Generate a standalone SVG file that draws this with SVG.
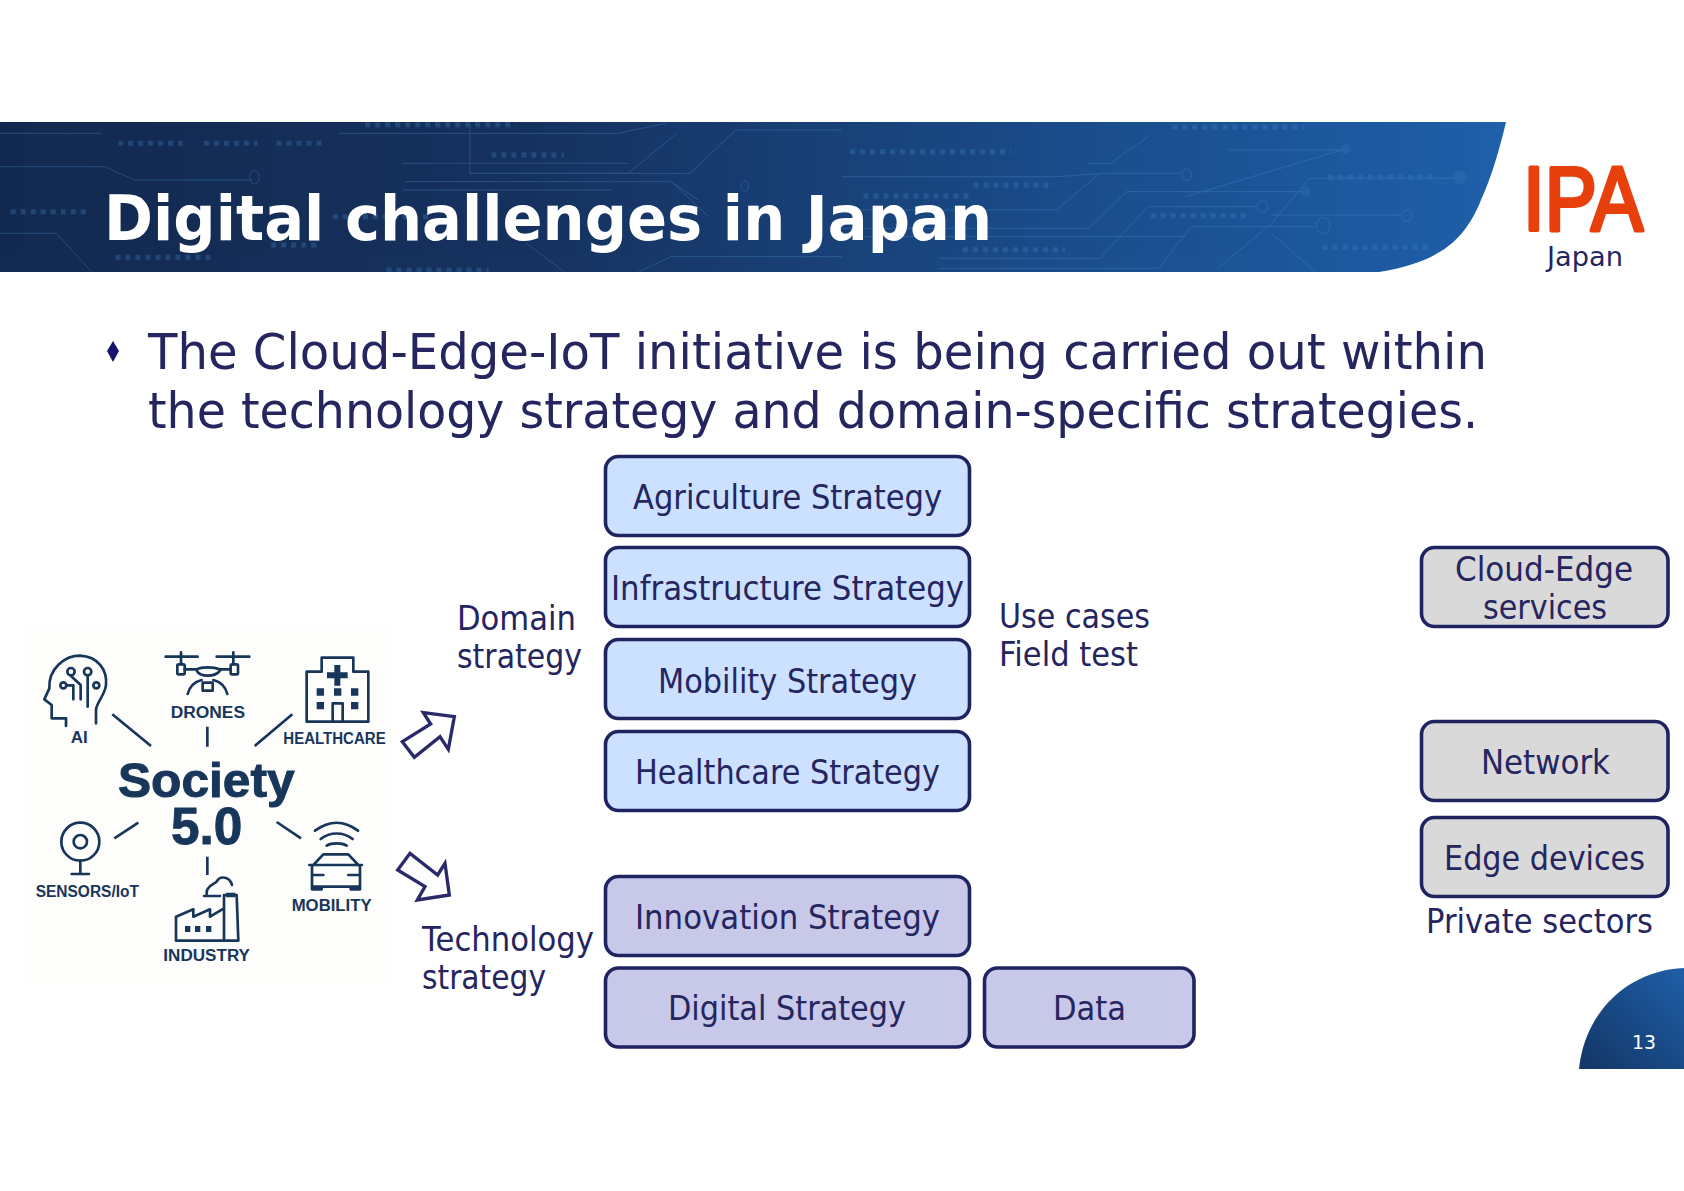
<svg xmlns="http://www.w3.org/2000/svg" width="1684" height="1191" viewBox="0 0 1684 1191">
<style>
.box{stroke:#1f2360;stroke-width:3.6}
.blue{fill:#cce0ff}.pur{fill:#c8c8e8}.gry{fill:#d9d9d9}
.t{font-family:"DejaVu Sans",sans-serif;fill:#25255f;font-size:33px}
.ic{fill:none;stroke:#17365a;stroke-width:8;stroke-linecap:round;stroke-linejoin:round}
.sp{fill:none;stroke:#17365a;stroke-width:8}
.lb{font-family:"Liberation Sans",sans-serif;font-weight:700;fill:#17365a;font-size:52px}
.so{font-family:"Liberation Sans",sans-serif;font-weight:700;fill:#17365a;stroke:#17365a;stroke-width:3}
.c{fill:none;stroke:#4a9ad8;stroke-width:1;vector-effect:non-scaling-stroke}
.dl{fill:none;stroke:#3f86c8;stroke-width:5;stroke-dasharray:5 5;vector-effect:non-scaling-stroke}
.d{fill:#3f86c8;opacity:.7}
.ar{fill:#fff;stroke:#2a2a6a;stroke-width:10;stroke-linejoin:miter}
</style>
<defs>
<linearGradient id="bg" x1="0" x2="1" y1="0" y2="0"><stop offset="0" stop-color="#132a50"/><stop offset=".35" stop-color="#16325f"/><stop offset=".7" stop-color="#1b4c8a"/><stop offset="1" stop-color="#1f60aa"/></linearGradient>
<linearGradient id="cg" x1="0" x2="1" y1="1" y2="0"><stop offset="0" stop-color="#133565"/><stop offset="1" stop-color="#1f5fa8"/></linearGradient>
<clipPath id="bc"><path d="M0 122H1506C1497 160 1488 185 1481 200C1465 240 1440 262 1379 272H0Z"/></clipPath>
</defs>
<rect width="1684" height="1191" fill="#fff"/>
<g id="banner">
<path d="M0 122H1506C1497 160 1488 185 1481 200C1465 240 1440 262 1379 272H0Z" fill="url(#bg)"/>
<g clip-path="url(#bc)" opacity=".3">
<g transform="translate(0 100) scale(.537 .3333)">
<path class="c" d="M0 100H190M0 200H195L250 240H470M630 100H1150L1240 70M875 70V220H1170L1260 100M875 220H1285L1370 90H1568M750 190H1170M755 245H1250L1300 300M750 270H1140M0 400H105L170 515M980 430L1050 515M1190 515L1250 470H1568M1250 245L1320 350"/>
<ellipse class="c" cx="474" cy="232" rx="9" ry="20"/><ellipse class="c" cx="1387" cy="258" rx="7" ry="15"/>
<path class="dl" d="M220 130H340M380 130H480M515 130H600M215 472H400M915 165H1050M20 335H165M620 350H800M505 435H590M680 74H960M720 510H910"/>
</g>
<g transform="translate(842 100) scale(.537 .3333)">
<path class="c" d="M0 230H400L490 220H630M0 330H400L480 220M0 385H460L530 275H860M0 410H640M180 475H480L570 320H770M180 505H590L650 380H880M700 505L800 370L870 235H1140M720 150H930L640 290M800 345H1040M800 400L880 515M460 190H500L570 110"/>
<ellipse class="c" cx="642" cy="224" rx="9" ry="17"/><ellipse class="c" cx="783" cy="320" rx="10" ry="18"/><ellipse class="c" cx="896" cy="377" rx="13" ry="24"/><ellipse class="c" cx="1052" cy="347" rx="9" ry="17"/>
<ellipse class="d" cx="938" cy="148" rx="9" ry="15"/><ellipse class="d" cx="864" cy="275" rx="9" ry="15"/><ellipse class="d" cx="1151" cy="232" rx="12" ry="20"/>
<path class="dl" d="M615 82H860M245 255H395M905 232H1100M575 347H760M40 288H240M225 449H415M895 442H1095M15 155H315"/>
</g>
</g>
<text x="104" y="240" font-family="'DejaVu Sans',sans-serif" font-weight="700" font-size="62" fill="#fff" textLength="888" lengthAdjust="spacingAndGlyphs">Digital challenges in Japan</text>
</g>
<g id="logo">
<text x="1523" y="230" font-family="'Liberation Sans',sans-serif" font-size="90" fill="#e8400c" stroke="#e8400c" stroke-width="4" stroke-linejoin="round" textLength="120" lengthAdjust="spacingAndGlyphs">IPA</text>
<text x="1547" y="266" class="t" style="font-size:27px" textLength="76" lengthAdjust="spacingAndGlyphs">Japan</text>
</g>
<g id="bullets">
<path d="M113 341L119 351L113 362L107 351Z" fill="#14146a"/>
<text x="148" y="369" class="t" style="font-size:50px" textLength="1339" lengthAdjust="spacingAndGlyphs">The Cloud-Edge-IoT initiative is being carried out within</text>
<text x="148" y="428" class="t" style="font-size:50px" textLength="1330" lengthAdjust="spacingAndGlyphs">the technology strategy and domain-specific strategies.</text>
</g>
<g id="society">
<rect x="24" y="625" width="368" height="360" fill="#fdfdfb"/>
<g transform="translate(20 620) scale(.33333)">
<g id="icon-ai"><path class="ic" d="M138 318V295H95V255L73 238L88 205C85 145 135 107 180 107C235 110 262 150 258 195C255 225 228 250 228 270V310"/><path class="ic" d="M203 168V260M153 168L182 195V238M140 196H160V238"/><circle class="ic" cx="203" cy="155" r="11"/><circle class="ic" cx="153" cy="155" r="11"/><circle class="ic" cx="229" cy="196" r="9"/><circle class="ic" cx="130" cy="196" r="9"/><text class="lb" x="152" y="370" textLength="51" lengthAdjust="spacingAndGlyphs">AI</text></g>
<g id="icon-drones"><path class="ic" d="M437 110H533M590 110H688M483 97V133M640 97V133M494 148H530C545 140 580 140 600 148H632M503 222C510 195 525 185 545 180M622 222C615 195 600 185 580 180"/><rect class="ic" x="472" y="133" width="22" height="30" rx="4"/><rect class="ic" x="632" y="133" width="22" height="30" rx="4"/><path class="ic" d="M530 152C540 172 585 172 600 152M548 188H578V212H548Z"/><text class="lb" x="452" y="295" textLength="223" lengthAdjust="spacingAndGlyphs">DRONES</text></g>
<g id="icon-healthcare"><path class="ic" d="M860 305V155H905V113H1000V155H1045V305Z"/><path d="M943 135h18v22h22v18h-22v22h-18v-22h-22v-18h22z" fill="#17365a"/><path d="M890 205h22v22h-22zM942 205h22v22h-22zM993 205h22v22h-22zM890 246h22v22h-22zM993 246h22v22h-22z" fill="#17365a"/><path class="ic" d="M938 305V250H968V305"/><text class="lb" x="790" y="372" textLength="307" lengthAdjust="spacingAndGlyphs">HEALTHCARE</text></g>
<g id="icon-sensors"><circle class="ic" cx="181" cy="665" r="57"/><circle class="ic" cx="181" cy="665" r="20"/><path class="ic" d="M181 722V762M155 762H207"/><text class="lb" x="47" y="832" textLength="310" lengthAdjust="spacingAndGlyphs">SENSORS/IoT</text></g>
<g id="icon-mobility"><path class="ic" d="M885 632C930 600 970 600 1014 632M902 657C930 635 970 635 998 657M920 677C935 668 965 668 980 677M868 735H1026M880 735L910 703H985L1015 735M876 735V800H1020V735M876 800V808H905V800M992 800V808H1020V800M880 765H910M985 765H1015"/><text class="lb" x="815" y="873" textLength="240" lengthAdjust="spacingAndGlyphs">MOBILITY</text></g>
<g id="icon-industry"><path class="ic" d="M468 962V890L520 868V890L570 868V890L612 865V962ZM612 825H650L655 962H612ZM560 822C555 800 585 790 590 785C600 765 630 770 636 795M552 828H600"/><path d="M495 918h16v18h-16zM525 918h16v18h-16zM558 918h16v18h-16zM618 818h28v14h-28z" fill="#17365a"/><text class="lb" x="430" y="1024" textLength="260" lengthAdjust="spacingAndGlyphs">INDUSTRY</text></g>
<g id="spokes"><path class="sp" d="M277 283L393 378M562 320V380M817 283L704 378M355 608L283 655M770 606L843 655M562 710V765"/></g>
<text class="so" x="294" y="531" font-size="146" textLength="530" lengthAdjust="spacingAndGlyphs">Society</text>
<text class="so" x="453" y="672" font-size="158" textLength="214" lengthAdjust="spacingAndGlyphs">5.0</text>
</g>
</g>
<g id="connectors" transform="translate(20 620) scale(.33333)">
<path class="ar" d="M1303 290L1210 278L1232 312L1147 365L1183 412L1260 350L1285 388Z"/>
<path class="ar" d="M1288 825L1275 730L1253 765L1170 700L1133 750L1215 800L1192 840Z"/>
</g>
<g id="label-domain"><text class="t" x="457" y="630" textLength="119" lengthAdjust="spacingAndGlyphs">Domain</text><text class="t" x="457" y="668" textLength="125" lengthAdjust="spacingAndGlyphs">strategy</text></g>
<g id="label-technology"><text class="t" x="422" y="951" textLength="172" lengthAdjust="spacingAndGlyphs">Technology</text><text class="t" x="422" y="989" textLength="124" lengthAdjust="spacingAndGlyphs">strategy</text></g>
<g id="label-usecases"><text class="t" x="999" y="628" textLength="151" lengthAdjust="spacingAndGlyphs">Use cases</text><text class="t" x="999" y="666" textLength="139" lengthAdjust="spacingAndGlyphs">Field test</text></g>
<g id="agriculture"><rect class="box blue" x="605.5" y="456.5" width="364" height="79" rx="13"/><text class="t" x="633" y="509" textLength="309" lengthAdjust="spacingAndGlyphs">Agriculture Strategy</text></g>
<g id="infrastructure"><rect class="box blue" x="605.5" y="547.5" width="364" height="79" rx="13"/><text class="t" x="611" y="600" textLength="353" lengthAdjust="spacingAndGlyphs">Infrastructure Strategy</text></g>
<g id="mobility"><rect class="box blue" x="605.5" y="639.5" width="364" height="79" rx="13"/><text class="t" x="658" y="693" textLength="259" lengthAdjust="spacingAndGlyphs">Mobility Strategy</text></g>
<g id="healthcare"><rect class="box blue" x="605.5" y="731.5" width="364" height="79" rx="13"/><text class="t" x="635" y="784" textLength="305" lengthAdjust="spacingAndGlyphs">Healthcare Strategy</text></g>
<g id="innovation"><rect class="box pur" x="605.5" y="876.5" width="364" height="79" rx="13"/><text class="t" x="635" y="929" textLength="305" lengthAdjust="spacingAndGlyphs">Innovation Strategy</text></g>
<g id="digital"><rect class="box pur" x="605.5" y="968" width="364" height="79" rx="13"/><text class="t" x="668" y="1020" textLength="238" lengthAdjust="spacingAndGlyphs">Digital Strategy</text></g>
<g id="data"><rect class="box pur" x="984.5" y="968" width="209.5" height="79" rx="13"/><text class="t" x="1053" y="1020" textLength="73" lengthAdjust="spacingAndGlyphs">Data</text></g>
<g id="cloud-edge"><rect class="box gry" x="1421.5" y="547.5" width="246.5" height="79" rx="13"/><text class="t" x="1455" y="581" textLength="178" lengthAdjust="spacingAndGlyphs">Cloud-Edge</text><text class="t" x="1483" y="619" textLength="124" lengthAdjust="spacingAndGlyphs">services</text></g>
<g id="network"><rect class="box gry" x="1421.5" y="721.5" width="246.5" height="79" rx="13"/><text class="t" x="1481" y="774" textLength="129" lengthAdjust="spacingAndGlyphs">Network</text></g>
<g id="edge-devices"><rect class="box gry" x="1421.5" y="817.5" width="246.5" height="79" rx="13"/><text class="t" x="1444" y="870" textLength="201" lengthAdjust="spacingAndGlyphs">Edge devices</text></g>
<g id="label-private"><text class="t" x="1426" y="933" textLength="227" lengthAdjust="spacingAndGlyphs">Private sectors</text></g>
<g id="page">
<path d="M1579 1069C1585 1010 1630 970 1684 968V1069Z" fill="url(#cg)"/>
<text x="1632" y="1049" font-family="'DejaVu Sans',sans-serif" font-size="19" fill="#fff" textLength="24" lengthAdjust="spacingAndGlyphs">13</text>
</g>
</svg>
